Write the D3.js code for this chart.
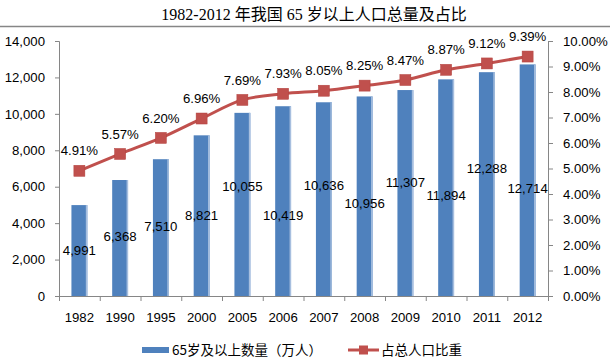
<!DOCTYPE html>
<html>
<head>
<meta charset="utf-8">
<script src="https://cdn.jsdelivr.net/npm/d3@7"></script>
<style>
  body { margin: 0; background: #fff; }
  text { font-family: "Liberation Sans", "Noto Sans CJK SC", sans-serif; }
</style>
</head>
<body>
<svg width="610" height="363"></svg>
<script>
var years = ["1982", "1990", "1995", "2000", "2005", "2006", "2007", "2008", "2009", "2010", "2011", "2012"];
var counts = [4991, 6368, 7510, 8821, 10055, 10419, 10636, 10956, 11307, 11894, 12288, 12714];
var shares = [4.91, 5.57, 6.20, 6.96, 7.69, 7.93, 8.05, 8.25, 8.47, 8.87, 9.12, 9.39];
var leftTicks = [0, 2000, 4000, 6000, 8000, 10000, 12000, 14000];
var rightTicks = [0, 1, 2, 3, 4, 5, 6, 7, 8, 9, 10];
var seriesNames = ["65岁及以上数量（万人）", "占总人口比重"];
var title = "1982-2012 年我国 65 岁以上人口总量及占比";

// where the bar labels sit (left-axis units), placed by hand in the original
var countLabelAt = [2500, 3250, 3800, 4450, 6000, 4450, 6100, 5100, 6250, 5500, 7000, 5900];

var blue = "#4f81bd", red = "#c0504d", axisGrey = "#868686";
var fs = "13.2px";

var svg = d3.select("svg");

var x = d3.scaleBand()
    .domain(years)
    .range([59, 548])
    .paddingInner(0.61)
    .paddingOuter(0.305);

var y = d3.scaleLinear()
    .domain([0, 14000])
    .range([296, 41]);

var y2 = d3.scaleLinear()
    .domain([0, 10])
    .range([296, 41]);

// title and rule under it
svg.append("text")
    .attr("x", 314)
    .attr("y", 20)
    .attr("text-anchor", "middle")
    .style("font-family", "'Liberation Serif', 'Noto Sans CJK SC', serif")
    .style("font-size", "16px")
    .attr("fill", "#000")
    .text(title);

svg.append("line")
    .attr("x1", 0).attr("x2", 610)
    .attr("y1", 26.5).attr("y2", 26.5)
    .attr("stroke", axisGrey)
    .attr("stroke-width", 1.5);

// bars
var bars = svg.append("g").selectAll("g")
  .data(years)
  .enter().append("g");

bars.append("rect")
    .attr("x", function(d) { return x(d); })
    .attr("y", function(d, i) { return y(counts[i]); })
    .attr("width", x.bandwidth())
    .attr("height", function(d, i) { return y(0) - y(counts[i]); })
    .attr("fill", blue);

bars.append("rect")
    .attr("x", function(d) { return x(d) + x.bandwidth() - 1.5; })
    .attr("y", function(d, i) { return y(counts[i]); })
    .attr("width", 1.5)
    .attr("height", function(d, i) { return y(0) - y(counts[i]); })
    .attr("fill", "#a7bfdf");

// axes
var yAxis = svg.append("g")
    .attr("transform", "translate(59,0)")
    .call(d3.axisLeft(y)
      .tickValues(leftTicks)
      .tickSize(4)
      .tickPadding(10)
      .tickFormat(d3.format(",")));

var y2Axis = svg.append("g")
    .attr("transform", "translate(548,0)")
    .call(d3.axisRight(y2)
      .tickValues(rightTicks)
      .tickSize(5)
      .tickPadding(10)
      .tickFormat(function(d) { return d.toFixed(2) + "%"; }));

var xb = d3.scaleLinear().domain([0, years.length]).range([59, 548]);
var xAxis = svg.append("g")
    .attr("transform", "translate(0,296)")
    .call(d3.axisBottom(xb)
      .tickValues(d3.range(years.length + 1))
      .tickSize(5)
      .tickSizeOuter(0)
      .tickFormat(""));

[yAxis, y2Axis, xAxis].forEach(function(a) {
  a.selectAll("path, line").attr("stroke", axisGrey);
  a.selectAll("text")
      .attr("fill", "#000")
      .style("font-size", fs);
});

svg.append("g").selectAll("text")
  .data(years)
  .enter().append("text")
    .attr("x", function(d) { return x(d) + x.bandwidth() / 2; })
    .attr("y", 317)
    .attr("dy", "0.35em")
    .attr("text-anchor", "middle")
    .style("font-size", fs)
    .attr("fill", "#000")
    .text(function(d) { return d; });

// bar value labels
svg.append("g").selectAll("text")
  .data(years)
  .enter().append("text")
    .attr("x", function(d) { return x(d) + x.bandwidth() / 2; })
    .attr("y", function(d, i) { return y(countLabelAt[i]); })
    .attr("dy", "0.35em")
    .attr("text-anchor", "middle")
    .style("font-size", fs)
    .attr("fill", "#000")
    .text(function(d, i) { return d3.format(",")(counts[i]); });

// share line
var cx = function(d, i) { return x(years[i]) + x.bandwidth() / 2; };

var line = d3.line()
    .x(cx)
    .y(function(d) { return y2(d); })
    .curve(d3.curveMonotoneX);

svg.append("path")
    .datum(shares)
    .attr("d", line)
    .attr("fill", "none")
    .attr("stroke", red)
    .attr("stroke-width", 3);

svg.append("g").selectAll("rect")
  .data(shares)
  .enter().append("rect")
    .attr("x", function(d, i) { return cx(d, i) - 5.5; })
    .attr("y", function(d) { return y2(d) - 5.5; })
    .attr("width", 11)
    .attr("height", 11)
    .attr("fill", red)
    .attr("stroke", "#b2403d")
    .attr("stroke-width", 0.5);

svg.append("g").selectAll("text")
  .data(shares)
  .enter().append("text")
    .attr("x", cx)
    .attr("y", function(d) { return y2(d) - 20; })
    .attr("dy", "0.35em")
    .attr("text-anchor", "middle")
    .style("font-size", fs)
    .attr("fill", "#000")
    .text(function(d) { return d.toFixed(2) + "%"; });

// legend
var legend = svg.append("g").attr("transform", "translate(0,350)");

legend.append("rect")
    .attr("x", 142).attr("y", -3)
    .attr("width", 27).attr("height", 6)
    .attr("fill", blue);

legend.append("text")
    .attr("x", 172).attr("y", 0)
    .attr("dy", "0.35em")
    .style("font-family", "'Noto Sans CJK SC', sans-serif")
    .style("font-size", "13.5px")
    .attr("fill", "#000")
    .text(seriesNames[0]);

legend.append("line")
    .attr("x1", 348).attr("x2", 379)
    .attr("y1", 0).attr("y2", 0)
    .attr("stroke", red)
    .attr("stroke-width", 3);

legend.append("rect")
    .attr("x", 359).attr("y", -4.5)
    .attr("width", 9).attr("height", 9)
    .attr("fill", red);

legend.append("text")
    .attr("x", 381).attr("y", 0)
    .attr("dy", "0.35em")
    .style("font-family", "'Noto Sans CJK SC', sans-serif")
    .style("font-size", "13.5px")
    .attr("fill", "#000")
    .text(seriesNames[1]);
</script>
</body>
</html>
